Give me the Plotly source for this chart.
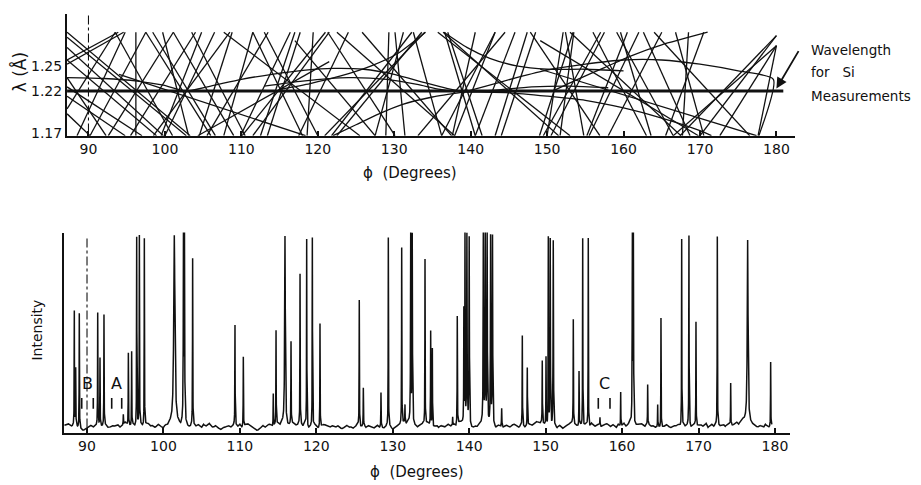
import numpy as np
import plotly.graph_objects as go

# ---------------- data ----------------
phi_ticks = [90, 100, 110, 120, 130, 140, 150, 160, 170, 180]
phi_tick_text = [str(t) for t in phi_ticks]
lam_ticks = [1.17, 1.22, 1.25]
lam_tick_text = ["1.17", "1.22", "1.25"]

si_lambda = 1.22
si_phi_span = [87.2, 180.9]
arrow_phi, arrow_lambda = 180.0, 1.223

# straight multiple-diffraction lines: (phi0, lambda0, phi1, lambda1)
lines_87_120 = [
    (87.2, 1.290, 103.3, 1.167), (87.2, 1.284, 102.8, 1.167),
    (87.2, 1.257, 93.9, 1.290), (87.2, 1.252, 94.6, 1.290),
    (87.2, 1.257, 98.9, 1.167), (87.2, 1.199, 93.5, 1.290),
    (87.2, 1.193, 90.2, 1.167), (90.2, 1.167, 97.5, 1.290),
    (87.2, 1.214, 94.8, 1.167), (87.2, 1.236, 92.3, 1.167),
    (96.2, 1.290, 96.2, 1.167), (92.6, 1.167, 101.1, 1.290),
    (93.5, 1.290, 101.0, 1.167), (99.7, 1.290, 103.1, 1.167),
    (97.5, 1.290, 106.0, 1.167), (98.5, 1.167, 108.5, 1.290),
    (94.0, 1.240, 118.4, 1.167), (98.4, 1.290, 106.6, 1.167),
    (104.8, 1.290, 99.5, 1.167), (101.1, 1.290, 109.0, 1.167),
    (107.7, 1.290, 125.5, 1.167), (107.7, 1.167, 111.5, 1.290),
    (111.5, 1.290, 118.0, 1.167), (110.1, 1.167, 121.0, 1.290),
    (116.4, 1.290, 109.9, 1.167), (117.7, 1.290, 113.4, 1.167),
    (119.4, 1.290, 118.6, 1.167), (121.5, 1.290, 111.5, 1.167),
    (95.5, 1.167, 104.0, 1.290), (104.3, 1.167, 121.5, 1.255),
    (87.2, 1.225, 97.0, 1.167), (88.5, 1.167, 94.8, 1.290),
    (87.2, 1.272, 99.8, 1.167), (103.5, 1.290, 110.5, 1.167),
    (105.5, 1.167, 113.5, 1.290), (112.5, 1.167, 117.0, 1.290),
    (100.0, 1.167, 106.5, 1.290), (108.8, 1.290, 104.5, 1.167),
    (113.0, 1.290, 120.0, 1.167),
]
lines_117_150 = [
    (120.9, 1.167, 134.0, 1.290), (122.5, 1.167, 133.6, 1.290),
    (122.5, 1.290, 137.9, 1.167), (117.0, 1.280, 127.5, 1.167),
    (121.3, 1.290, 130.1, 1.167), (129.3, 1.290, 128.9, 1.167),
    (130.1, 1.290, 131.4, 1.167), (125.8, 1.290, 137.5, 1.167),
    (121.8, 1.167, 132.3, 1.290), (131.2, 1.290, 127.5, 1.167),
    (132.5, 1.290, 136.2, 1.167), (136.6, 1.290, 140.6, 1.167),
    (137.0, 1.290, 141.5, 1.167), (135.7, 1.290, 153.0, 1.167),
    (136.4, 1.290, 151.5, 1.167), (137.9, 1.167, 143.2, 1.290),
    (140.6, 1.167, 145.8, 1.290), (133.1, 1.167, 144.5, 1.290),
    (143.2, 1.290, 136.2, 1.167), (140.6, 1.290, 137.6, 1.167),
    (147.4, 1.290, 143.2, 1.167), (147.8, 1.290, 156.9, 1.167),
    (152.1, 1.290, 150.0, 1.167), (153.4, 1.290, 149.0, 1.167),
    (117.5, 1.167, 124.0, 1.290), (144.0, 1.167, 148.5, 1.290),
]
lines_150_181 = [
    (152.4, 1.290, 154.8, 1.167), (153.5, 1.290, 151.7, 1.167),
    (153.0, 1.290, 167.5, 1.167), (149.1, 1.280, 169.8, 1.167),
    (149.1, 1.246, 177.4, 1.167), (159.6, 1.290, 163.6, 1.167),
    (160.5, 1.290, 155.2, 1.167), (162.6, 1.290, 168.7, 1.167),
    (166.5, 1.167, 159.1, 1.290), (166.5, 1.167, 180.0, 1.274),
    (167.4, 1.167, 180.0, 1.286), (180.0, 1.286, 170.0, 1.167),
    (180.0, 1.274, 172.6, 1.167), (180.0, 1.274, 177.6, 1.167),
    (168.5, 1.290, 167.7, 1.167), (166.8, 1.290, 170.5, 1.167),
    (157.0, 1.290, 149.5, 1.167), (155.5, 1.167, 162.0, 1.290),
    (158.0, 1.167, 165.0, 1.290), (164.0, 1.290, 176.5, 1.167),
    (150.5, 1.167, 157.5, 1.290), (156.0, 1.290, 163.0, 1.167),
    (170.5, 1.290, 165.5, 1.167),
]
# curved lines: lists of (phi, lambda)
curve_dip_102 = [(87.2, 1.236), (92, 1.235), (96.4, 1.232), (99.8, 1.227), (102.7, 1.220),
                 (106, 1.226), (110, 1.234), (114, 1.240), (118.4, 1.245), (122, 1.247),
                 (126, 1.246), (130, 1.240), (134, 1.230), (137, 1.223), (139.2, 1.219)]
curve_arc_162 = [(139.2, 1.219), (142, 1.226), (146, 1.236), (150, 1.245), (155, 1.252),
                 (160, 1.257), (165, 1.257), (170, 1.252), (175, 1.244), (179.6, 1.234),
                 (177.7, 1.167)]
curve_flat_139 = [(113, 1.226), (118, 1.232), (124, 1.236), (129, 1.234), (133, 1.228),
                  (136, 1.222), (139.2, 1.219), (143, 1.221), (148, 1.225), (153, 1.226),
                  (158, 1.224)]
curve_fall_171 = [(139.2, 1.219), (145, 1.218), (150, 1.214), (155, 1.209), (160, 1.200),
                  (165, 1.188), (170, 1.173), (171.5, 1.167)]
curve_rise_122 = [(122, 1.167), (125, 1.180), (128, 1.193), (131, 1.204), (135, 1.213),
                  (139.2, 1.219)]
curve_up_134 = [(115, 1.222), (119, 1.229), (123, 1.238), (127, 1.250), (130.5, 1.265),
                (134.1, 1.290)]
curve_down_136 = [(136.5, 1.290), (139.5, 1.272), (142.5, 1.259), (146, 1.250),
                  (150, 1.246), (155, 1.246), (160, 1.244)]
curve_up_171 = [(150.7, 1.220), (154, 1.234), (157.5, 1.248), (161, 1.262), (165, 1.275),
                (171, 1.290)]

# intensity scan background: values every 0.5 deg from 87.0, and in between (from 87.25)
baseline_phi0 = 87.0
baseline_dphi = 0.5
baseline_vals = [
    3.5, 4.5, 3.0, 4.0, 2.5, 1.0, 2.0, 3.5, 3.0, 4.0,
    3.0, 3.5, 2.5, 3.0, 4.0, 3.0, 5.0, 3.5, 4.0, 3.5,
    4.0, 3.0, 4.5, 3.5, 2.5, 3.5, 2.0, 3.0, 4.5, 5.0,
    4.0, 4.5, 3.5, 2.5, 3.5, 4.0, 2.5, 3.0, 4.5, 2.5,
    3.0, 1.5, 2.5, 3.5, 3.0, 3.5, 4.0, 3.0, 4.5, 3.0,
    2.0, 1.5, 3.5, 3.0, 4.0, 3.5, 4.5, 5.0, 4.0, 3.5,
    4.5, 3.5, 4.0, 5.0, 2.0, 3.5, 3.0, 2.5, 4.0, 3.0,
    3.5, 2.5, 3.0, 2.0, 3.5, 3.0, 2.5, 4.0, 3.0, 2.5,
    3.0, 2.0, 3.5, 3.0, 2.5, 3.5, 1.5, 3.0, 4.0, 5.0,
    5.5, 4.0, 3.0, 3.5, 4.5, 5.0, 3.5, 3.0, 2.5, 3.0,
    3.5, 3.0, 4.0, 4.5, 5.0, 5.5, 3.0, 2.0, 2.5, 4.0,
    5.0, 4.0, 3.5, 2.0, 3.0, 2.5, 3.5, 3.0, 4.0, 2.5,
    3.5, 3.0, 4.0, 4.5, 5.0, 5.0, 3.5, 2.5, 1.5, 2.0,
    3.0, 2.5, 4.0, 5.0, 3.5, 4.0, 3.0, 3.5, 4.5, 3.0,
    4.0, 3.5, 4.5, 3.0, 3.5, 4.0, 3.5, 3.0, 5.0, 2.0,
    3.5, 4.5, 3.0, 4.0, 3.5, 2.5, 2.0, 3.0, 3.5, 2.5,
    3.0, 3.5, 4.0, 3.5, 2.5, 4.0, 3.5, 3.0, 4.5, 3.5,
    3.0, 4.0, 3.5, 3.0, 4.5, 3.5, 5.0, 5.5, 6.0, 5.0,
    4.0, 3.0, 3.5, 2.5, 3.0, 3.5,
]
baseline_mid_vals = [
    4.0, 3.5, 3.5, 2.5, 1.5, 1.5, 3.0, 2.5, 3.5, 3.0,
    4.0, 2.5, 3.5, 3.5, 2.5, 4.0, 4.0, 3.0, 3.0, 4.5,
    3.0, 4.0, 3.0, 2.5, 4.0, 2.5, 3.5, 4.0, 3.5, 4.0,
    3.0, 4.0, 2.5, 4.0, 3.0, 3.0, 4.0, 3.5, 3.0, 3.5,
    2.0, 2.5, 3.0, 2.5, 4.0, 3.0, 2.5, 4.0, 3.5, 2.5,
    1.0, 2.5, 2.5, 4.0, 3.0, 4.0, 3.5, 4.5, 3.0, 4.5,
    3.5, 4.5, 3.0, 2.5, 3.0, 4.0, 2.0, 3.5, 3.5, 2.5,
    3.0, 3.5, 2.0, 3.0, 2.5, 2.0, 3.5, 2.5, 3.5, 3.5,
    2.5, 3.0, 2.5, 2.0, 3.5, 2.5, 2.5, 3.5, 4.5, 4.0,
    4.5, 3.5, 2.5, 4.0, 3.5, 4.0, 2.5, 3.5, 3.5, 2.5,
    4.0, 3.5, 3.0, 5.0, 4.5, 4.0, 2.0, 3.0, 3.5, 5.0,
    4.5, 3.0, 2.5, 3.5, 2.0, 3.5, 2.5, 4.0, 3.0, 3.5,
    2.5, 4.0, 3.5, 5.5, 4.5, 4.0, 2.5, 1.5, 2.5, 3.5,
    2.0, 3.5, 4.5, 4.0, 3.0, 3.0, 4.0, 2.5, 3.5, 4.0,
    3.0, 4.0, 3.5, 4.0, 2.5, 3.0, 4.5, 3.5, 3.0, 3.0,
    4.0, 3.5, 4.0, 3.0, 2.5, 3.0, 2.5, 4.0, 2.5, 3.5,
    4.0, 2.5, 3.0, 4.5, 3.5, 3.0, 4.0, 3.5, 2.5, 4.0,
    4.0, 3.0, 4.0, 4.0, 3.5, 4.5, 4.0, 6.5, 6.0, 4.5,
    3.5, 2.5, 3.0, 4.0, 2.5,
]
# reflections (position in degrees, height above background, half-width)
peak_phi = [88.34, 88.52, 88.99, 91.40, 91.70, 92.22, 94.75, 95.41, 95.84, 96.50,
            96.85, 97.50, 101.42, 102.62, 102.75, 103.82, 109.36, 110.45, 114.37, 114.73,
            115.90, 116.69, 117.87, 118.74, 119.48, 120.48, 125.62, 126.15, 128.46, 129.42,
            131.17, 131.60, 132.35, 132.55, 134.22, 134.96, 135.18, 137.84, 138.44, 139.30,
            139.45, 139.70, 140.00, 141.85, 142.10, 142.35, 142.80, 143.05, 144.25, 146.95,
            147.60, 149.56, 150.05, 150.35, 150.60, 151.00, 153.62, 154.37, 154.85, 155.58,
            157.11, 159.82, 161.35, 161.48, 163.35, 164.66, 165.09, 167.80, 168.75, 169.67,
            172.46, 174.21, 176.43, 179.44]
peak_height = [57, 28, 57, 56, 34, 55, 5, 36, 37, 94,
               94, 94, 94, 94, 94, 83, 50, 35, 16, 47,
               94, 41, 75, 94, 94, 52, 63, 19, 17, 94,
               88, 9, 94, 94, 83, 47, 39, 4, 54, 56,
               94, 94, 94, 94, 94, 94, 94, 94, 10, 45,
               29, 31, 34, 94, 94, 94, 52, 27, 94, 94,
               4, 17, 94, 94, 20, 11, 55, 94, 94, 52,
               94, 21, 91, 32]
peak_width = [0.02] * 12 + [0.09] + [0.03, 0.03] + [0.02] * 5 + [0.05] + [0.02] * 11 + \
             [0.03, 0.03] + [0.02] * 7 + [0.03] * 8 + [0.02] * 5 + [0.03, 0.03] + [0.02] * 6 + \
             [0.03, 0.03] + [0.02] * 8 + [0.06, 0.02]

# tick pairs marking positions A, B, C
mark_labels = ["B", "A", "C"]
mark_phi_pairs = [(89.31, 90.82), (93.23, 94.54), (156.89, 158.42)]
mark_low, mark_high, mark_text_level = 11.9, 17.3, 24.3

# ---------------- build figure ----------------
INK = "#111111"
FONT = "DejaVu Sans"
OFF = 8                 # the page body margin shifts the figure by 8 px
W, H = 921 - OFF, 485 - OFF


def px_x(px):
    return (px - OFF) / W


def px_y(py):
    return 1 - (py - OFF) / H


def segments_xy(segs):
    xs, ys = [], []
    for p0, l0, p1, l1 in segs:
        xs += [p0, p1, None]
        ys += [l0, l1, None]
    return xs, ys


def curves_xy(curves):
    xs, ys = [], []
    for c in curves:
        xs += [p for p, _ in c] + [None]
        ys += [l for _, l in c] + [None]
    return xs, ys


fig = go.Figure()

sx, sy = segments_xy(lines_87_120 + lines_117_150 + lines_150_181)
fig.add_trace(go.Scatter(x=sx, y=sy, mode="lines", line=dict(color=INK, width=1.3),
                         xaxis="x", yaxis="y", hoverinfo="skip", showlegend=False))
cx, cy = curves_xy([curve_dip_102, curve_arc_162, curve_flat_139, curve_fall_171,
                    curve_rise_122, curve_up_134, curve_down_136, curve_up_171])
fig.add_trace(go.Scatter(x=cx, y=cy, mode="lines",
                         line=dict(color=INK, width=1.3, shape="spline", smoothing=0.6),
                         xaxis="x", yaxis="y", hoverinfo="skip", showlegend=False))
fig.add_trace(go.Scatter(x=si_phi_span, y=[si_lambda, si_lambda], mode="lines",
                         line=dict(color=INK, width=3), xaxis="x", yaxis="y",
                         hoverinfo="skip", showlegend=False))
fig.add_trace(go.Scatter(x=[90, 90], y=[1.31, 1.167], mode="lines",
                         line=dict(color=INK, width=1.1, dash="dashdot"), xaxis="x", yaxis="y",
                         hoverinfo="skip", showlegend=False))

# intensity curve
base_phi = np.concatenate([baseline_phi0 + baseline_dphi * np.arange(len(baseline_vals)),
                           baseline_phi0 + baseline_dphi / 2 + baseline_dphi * np.arange(len(baseline_mid_vals))])
base_val = np.concatenate([np.array(baseline_vals), np.array(baseline_mid_vals)])
order = np.argsort(base_phi)
base_phi, base_val = base_phi[order], base_val[order]
grid = np.union1d(np.arange(87.05, 179.6, 0.01), np.array(peak_phi))
inten = np.interp(grid, base_phi, base_val)
for p, h, g in zip(peak_phi, peak_height, peak_width):
    inten = inten + h * g * g / ((grid - p) ** 2 + g * g)
fig.add_trace(go.Scatter(x=grid, y=inten, mode="lines", line=dict(color=INK, width=1.5),
                         xaxis="x2", yaxis="y2", hoverinfo="skip", showlegend=False))
fig.add_trace(go.Scatter(x=[90, 90], y=[97, 2.5], mode="lines",
                         line=dict(color=INK, width=1.1, dash="dashdot"), xaxis="x2", yaxis="y2",
                         hoverinfo="skip", showlegend=False))
mx, my = [], []
for a, b in mark_phi_pairs:
    mx += [a, a, None, b, b, None]
    my += [mark_low, mark_high, None, mark_low, mark_high, None]
fig.add_trace(go.Scatter(x=mx, y=my, mode="lines", line=dict(color=INK, width=1.6),
                         xaxis="x2", yaxis="y2", hoverinfo="skip", showlegend=False))

annotations = []
for lab, (a, b) in zip(mark_labels, mark_phi_pairs):
    annotations.append(dict(x=(a + b) / 2, y=mark_text_level, xref="x2", yref="y2", text=lab,
                            xanchor="center", yanchor="middle",
                            showarrow=False, font=dict(family=FONT, size=16, color=INK)))

txt = dict(showarrow=False, xref="paper", yref="paper", xanchor="center", yanchor="middle",
           font=dict(family=FONT, size=15, color=INK))
annotations += [
    dict(txt, x=px_x(19), y=px_y(73), text="λ (Å)", textangle=-90,
         font=dict(family=FONT, size=17, color=INK)),
    dict(txt, x=px_x(410), y=px_y(175), text="ϕ\u00a0\u00a0(Degrees)"),
    dict(txt, x=px_x(417), y=px_y(477), text="ϕ\u00a0\u00a0(Degrees)"),
    dict(txt, x=px_x(37), y=px_y(334), text="Intensity", textangle=-90,
         font=dict(family=FONT, size=14, color=INK)),
    dict(txt, x=px_x(809), y=px_y(50), text="Wavelength", xanchor="left",
         font=dict(family=FONT, size=13.5, color=INK)),
    dict(txt, x=px_x(809), y=px_y(73), text="for\u00a0\u00a0\u00a0Si", xanchor="left",
         font=dict(family=FONT, size=13.5, color=INK)),
    dict(txt, x=px_x(809), y=px_y(97), text="Measurements", xanchor="left",
         font=dict(family=FONT, size=13.5, color=INK)),
    dict(x=arrow_phi, y=arrow_lambda, xref="x", yref="y", text="", showarrow=True,
         ax=23, ay=-39, arrowhead=2, arrowsize=1.2, arrowwidth=1.8, arrowcolor=INK),
]

axis_common = dict(showgrid=False, zeroline=False, showline=True, linecolor=INK, linewidth=2,
                   tickfont=dict(family=FONT, size=14, color=INK))

fig.update_layout(
    width=W, height=H, margin=dict(l=0, r=0, t=0, b=0),
    paper_bgcolor="white", plot_bgcolor="white", showlegend=False,
    xaxis=dict(axis_common, domain=[px_x(67), px_x(795)], range=[87.19, 182.43], anchor="y",
               tickmode="array", tickvals=phi_ticks, ticktext=phi_tick_text,
               ticks="inside", ticklen=5, tickwidth=1.5, tickcolor=INK),
    yaxis=dict(axis_common, domain=[px_y(137), px_y(14)], range=[1.16706, 1.31176], anchor="x",
               tickmode="array", tickvals=lam_ticks, ticktext=lam_tick_text, ticks=""),
    xaxis2=dict(axis_common, domain=[px_x(64), px_x(790)], range=[86.99, 181.97], anchor="y2",
                tickmode="array", tickvals=phi_ticks, ticktext=phi_tick_text,
                ticks="inside", ticklen=5, tickwidth=1.5, tickcolor=INK),
    yaxis2=dict(axis_common, domain=[px_y(437), px_y(235)], range=[0, 100], anchor="x2",
                showticklabels=False, ticks=""),
    annotations=annotations,
)

fig.write_html("out.html")
